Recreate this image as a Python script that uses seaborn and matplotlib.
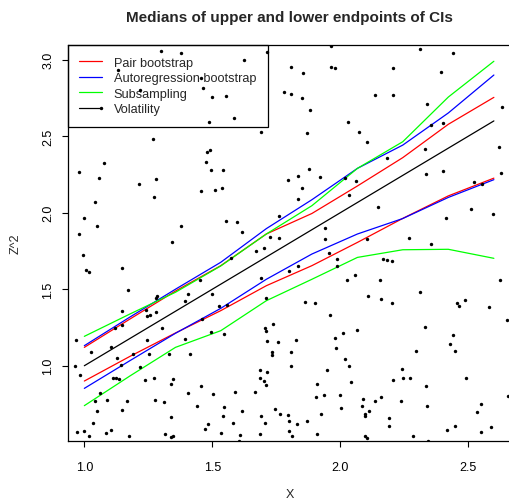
import matplotlib
matplotlib.use("Agg")
import matplotlib.pyplot as plt
from matplotlib.lines import Line2D
import pandas as pd
import seaborn as sns

# grid of x values where the medians were evaluated
x_grid = [1.0, 1.178, 1.356, 1.533, 1.711, 1.889, 2.067, 2.244, 2.422, 2.6]

pair_upper = [1.12, 1.305, 1.488, 1.654, 1.861, 1.995, 2.175, 2.36, 2.578, 2.754]
pair_lower = [0.90, 1.061, 1.214, 1.36, 1.523, 1.654, 1.806, 1.963, 2.11, 2.226]
ar_upper = [1.131, 1.318, 1.50, 1.676, 1.896, 2.085, 2.29, 2.442, 2.652, 2.90]
ar_lower = [0.852, 1.033, 1.212, 1.375, 1.565, 1.73, 1.861, 1.962, 2.10, 2.216]
sub_upper = [1.192, 1.338, 1.48, 1.652, 1.861, 2.046, 2.29, 2.464, 2.756, 2.99]
sub_lower = [0.739, 0.933, 1.12, 1.229, 1.425, 1.565, 1.708, 1.758, 1.761, 1.702]
volatility = [1.0, 1.178, 1.356, 1.533, 1.711, 1.889, 2.067, 2.244, 2.422, 2.6]

methods = ["Pair bootstrap", "Autoregression bootstrap", "Subsampling", "Volatility"]
colors = ["#FF0000", "#0000FF", "#00FF00", "#000000"]

# background sample points
pts_x = [
    1.298, 1.377, 1.712, 1.625, 1.132, 1.457, 1.465, 1.499, 1.552, 1.780,
    1.216, 1.064, 1.585, 1.487, 1.691, 1.270, 1.490, 1.481, 1.474, 1.077,
    1.496, 1.543, 0.978, 1.059, 1.280, 1.215, 1.796, 1.455, 1.509, 1.537,
    1.272, 1.041, 1.000, 1.552, 1.598, 1.050, 1.377, 0.979, 1.616, 1.762,
    1.725, 1.759, 1.344,
    1.965, 2.311, 2.439, 1.809, 1.853, 1.965, 1.979, 2.207, 2.392, 1.809,
    1.850, 2.134, 2.207, 1.883, 2.340, 2.633, 2.030, 2.353, 2.401, 1.870,
    2.072, 2.103, 2.621, 2.332, 2.184, 1.879, 1.835, 1.921, 2.020, 2.063,
    2.335, 2.401, 2.627, 1.850, 2.033, 1.835, 2.522, 2.554, 2.147, 2.512,
    2.413, 2.598, 1.941, 1.942, 2.105, 2.270,
    0.995, 1.005, 1.018, 1.148, 1.171, 1.702, 1.672, 1.574, 1.691, 1.499,
    1.451, 1.405, 1.395, 1.285, 1.281, 1.147, 1.242, 1.281, 1.258, 1.246,
    1.119, 1.148, 1.305, 1.460, 1.526, 1.557, 1.711, 1.707, 1.711, 1.738,
    0.968, 1.025, 1.244, 1.395, 1.496, 1.546, 1.105, 1.190, 1.253, 1.331,
    1.414, 1.129, 1.142, 1.712, 1.757, 1.733, 1.735, 0.965, 0.983, 1.219,
    1.685, 1.714, 1.688, 1.702, 1.710, 1.112, 1.123, 1.136, 1.236, 1.272,
    1.348, 1.340, 1.457, 1.061, 1.090, 1.043, 1.167, 1.275, 1.310, 1.405,
    1.504, 1.588, 1.666, 1.051, 1.146, 1.440, 1.546, 1.617, 1.746, 1.764,
    1.796, 1.340, 1.543, 1.691, 1.033, 1.105, 1.085, 1.000, 0.971, 1.020,
    1.173, 1.314, 1.340, 1.348, 1.473, 1.483, 1.580, 1.705, 1.535, 1.610,
    1.688, 1.799, 1.603,
    2.356, 1.955, 1.987, 1.988, 1.835, 1.801, 2.168, 2.181, 2.203, 2.056,
    2.027, 2.154, 2.625, 2.311, 2.108, 2.158, 2.202, 1.863, 1.902, 1.960,
    2.457, 2.462, 2.488, 2.580, 2.651, 2.330, 2.064, 2.012, 1.980, 1.982,
    1.827, 1.806, 1.809, 2.439, 2.429, 2.449, 2.297, 2.017, 2.035, 1.947,
    2.242, 2.043, 2.206, 2.243, 2.273, 2.491, 2.334, 1.910, 1.904, 1.938,
    1.998, 2.090, 2.159, 2.134, 2.238, 2.656, 2.338, 2.085, 2.004, 2.113,
    2.098, 2.095, 1.926, 1.801, 1.832, 1.869, 2.191, 2.548, 2.533, 2.192,
    2.447, 2.588, 2.416, 2.551, 1.811, 1.909, 2.098, 2.105, 2.284, 2.343,
]
pts_y = [
    3.057, 3.042, 3.052, 2.996, 2.933, 2.882, 2.813, 2.758, 2.765, 2.791,
    2.802, 2.682, 2.617, 2.591, 2.529, 2.480, 2.408, 2.395, 2.333, 2.323,
    2.277, 2.281, 2.268, 2.225, 2.219, 2.188, 2.216, 2.144, 2.147, 2.163,
    2.103, 2.072, 1.963, 1.946, 1.941, 1.911, 1.911, 1.859, 1.872, 1.980,
    1.841, 1.835, 1.807,
    3.092, 3.070, 3.044, 2.950, 2.915, 2.954, 2.946, 2.946, 2.922, 2.774,
    2.752, 2.767, 2.771, 2.673, 2.708, 2.689, 2.595, 2.573, 2.584, 2.523,
    2.525, 2.460, 2.431, 2.414, 2.359, 2.284, 2.238, 2.231, 2.225, 2.207,
    2.253, 2.270, 2.262, 2.163, 2.114, 2.088, 2.203, 2.190, 2.035, 2.022,
    1.963, 1.993, 1.902, 1.828, 1.826, 1.833,
    1.722, 1.623, 1.614, 1.638, 1.497, 1.771, 1.748, 1.702, 1.571, 1.467,
    1.562, 1.471, 1.421, 1.453, 1.442, 1.357, 1.362, 1.349, 1.329, 1.323,
    1.246, 1.268, 1.246, 1.307, 1.388, 1.399, 1.442, 1.246, 1.229, 1.271,
    1.166, 1.092, 1.170, 1.174, 1.218, 1.207, 1.122, 1.078, 1.076, 1.076,
    1.074, 1.048, 1.007, 1.163, 1.153, 1.088, 1.072, 0.996, 0.939, 0.992,
    0.970, 0.957, 0.918, 0.900, 0.872, 0.922, 0.922, 0.913, 0.908, 0.919,
    0.913, 0.878, 0.865, 0.820, 0.778, 0.767, 0.769, 0.774, 0.761, 0.822,
    0.817, 0.826, 0.826, 0.706, 0.708, 0.735, 0.731, 0.706, 0.717, 0.686,
    0.675, 0.663, 0.671, 0.671, 0.624, 0.578, 0.558, 0.571, 0.565, 0.539,
    0.543, 0.552, 0.537, 0.542, 0.584, 0.617, 0.628, 0.624, 0.560, 0.549,
    0.552, 0.575, 0.508,
    1.797, 1.737, 1.697, 1.650, 1.654, 1.621, 1.697, 1.689, 1.682, 1.595,
    1.560, 1.562, 1.562, 1.484, 1.453, 1.436, 1.408, 1.416, 1.408, 1.331,
    1.409, 1.392, 1.431, 1.384, 1.301, 1.255, 1.231, 1.214, 1.179, 1.118,
    1.166, 1.090, 1.000, 1.201, 1.142, 1.094, 1.098, 1.042, 1.000, 0.970,
    0.976, 0.893, 0.908, 0.917, 0.919, 0.922, 0.865, 0.880, 0.797, 0.806,
    0.806, 0.784, 0.793, 0.767, 0.771, 0.804, 0.737, 0.735, 0.721, 0.704,
    0.682, 0.669, 0.684, 0.641, 0.619, 0.641, 0.658, 0.752, 0.695, 0.604,
    0.606, 0.599, 0.578, 0.565, 0.539, 0.552, 0.543, 0.528, 0.539, 0.508,
]

# long table: one row per (method, bound, x)
series = [
    ("Pair bootstrap", "upper", pair_upper), ("Pair bootstrap", "lower", pair_lower),
    ("Autoregression bootstrap", "upper", ar_upper), ("Autoregression bootstrap", "lower", ar_lower),
    ("Subsampling", "upper", sub_upper), ("Subsampling", "lower", sub_lower),
    ("Volatility", "mid", volatility),
]
rows = []
for method, bound, vals in series:
    for xv, yv in zip(x_grid, vals):
        rows.append({"method": method, "bound": bound, "x": xv, "y": yv})
df = pd.DataFrame(rows)

sns.set_theme(style="ticks")
plt.rcParams["font.family"] = ["Liberation Sans", "DejaVu Sans"]

fig = plt.figure(figsize=(5.09, 5.02), dpi=100)
ax = fig.add_axes([0.133, 0.1189, 0.873, 0.7894])

sns.scatterplot(x=pts_x, y=pts_y, color="black", s=6, linewidth=0, ax=ax, zorder=6)
sns.lineplot(data=df, x="x", y="y", hue="method", units="bound", estimator=None,
             palette=dict(zip(methods, colors)), hue_order=methods,
             linewidth=0.9, legend=False, sort=False, ax=ax, zorder=3)

ax.set_xlim(0.935, 2.671)
ax.set_ylim(0.506, 3.096)
ax.set_xticks([1.0, 1.5, 2.0, 2.5])
ax.set_yticks([1.0, 1.5, 2.0, 2.5, 3.0])
ax.set_xticklabels(["1.0", "1.5", "2.0", "2.5"])
ax.set_yticklabels(["1.0", "1.5", "2.0", "2.5", "3.0"])
ax.tick_params(axis="both", direction="out", length=4.3, width=0.8,
               labelsize=9, colors="black")
ax.tick_params(axis="x", pad=10)
ax.tick_params(axis="y", pad=5.5)
plt.setp(ax.get_yticklabels(), rotation=90, va="center")

for sp in ax.spines.values():
    sp.set_color("black")
    sp.set_linewidth(0.9)

ax.set_xlabel("X", fontsize=9, labelpad=11)
ax.set_ylabel("Z^2", fontsize=9, labelpad=15)
ax.set_title("Medians of upper and lower endpoints of CIs",
             fontsize=11, fontweight="bold", pad=17)

handles = [Line2D([0], [0], color=c, linewidth=0.9) for c in colors]
leg = ax.legend(handles, methods, loc="upper left", bbox_to_anchor=(0, 1),
                borderaxespad=0, frameon=True, fancybox=False, edgecolor="black",
                facecolor="none", framealpha=1, fontsize=9.2, handlelength=1.75,
                handletextpad=0.95, borderpad=0.9, labelspacing=0.28)
leg.get_frame().set_linewidth(0.9)

fig.savefig("out.png", dpi=100)
